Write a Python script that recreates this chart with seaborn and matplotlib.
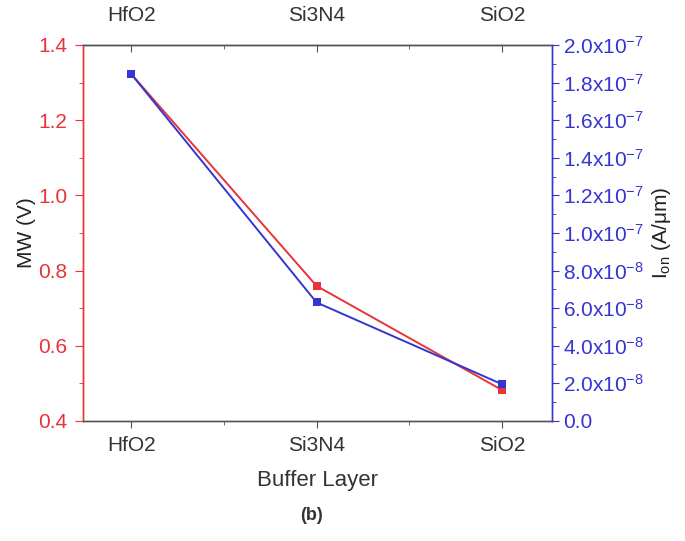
import math
import matplotlib
matplotlib.use("Agg")
import matplotlib.pyplot as plt
import seaborn as sns
import pandas as pd
from matplotlib.ticker import MultipleLocator, FixedLocator, FuncFormatter

layers = ["HfO2", "Si3N4", "SiO2"]
mw_values = [1.323, 0.759, 0.482]
ion_values = [1.846e-7, 6.3e-8, 1.95e-8]
left_ticks = [0.4, 0.6, 0.8, 1.0, 1.2, 1.4]
right_ticks = [0.0, 2e-8, 4e-8, 6e-8, 8e-8, 1e-7, 1.2e-7, 1.4e-7, 1.6e-7, 1.8e-7, 2e-7]

sns.set_style("white")
plt.rcParams['font.family'] = ['Liberation Sans', 'DejaVu Sans']
plt.rcParams['mathtext.fontset'] = 'custom'
plt.rcParams['mathtext.rm'] = 'Liberation Sans'
plt.rcParams['mathtext.it'] = 'Liberation Sans'
plt.rcParams['mathtext.default'] = 'rm'

RED = "#e8333a"
BLUE = "#3535d0"
FS = 15

df = pd.DataFrame({"pos": range(len(layers)), "layer": layers,
                   "MW": mw_values, "Ion": ion_values})

fig = plt.figure(figsize=(6.85, 5.41), dpi=100)
ax = fig.add_axes([0.121, 0.222, 0.685, 0.695])
ax2 = ax.twinx()

sns.lineplot(data=df, x="pos", y="MW", ax=ax, color=RED, marker="s",
             markersize=5.5, markeredgewidth=0, linewidth=1.4)
sns.lineplot(data=df, x="pos", y="Ion", ax=ax2, color=BLUE, marker="s",
             markersize=5.5, markeredgewidth=0, linewidth=1.4)

ax.set_xlim(-0.26, 2.27)
ax.set_ylim(0.4, 1.4)
ax2.set_ylim(0, 2e-7)

ax.set_xticks(range(len(layers)))
ax.set_xticklabels(layers)
ax.xaxis.set_minor_locator(FixedLocator([0.5, 1.5]))
ax.set_yticks(left_ticks)
ax.yaxis.set_minor_locator(MultipleLocator(0.1))
ax2.set_yticks(right_ticks)
ax2.yaxis.set_minor_locator(MultipleLocator(1e-8))

def fmt(v, pos):
    if abs(v) < 1e-15:
        return "0.0"
    e = int(math.floor(math.log10(abs(v)) + 1e-9))
    m = v / 10 ** e
    return r"%.1fx10$^{%d}$" % (m, e)

ax2.yaxis.set_major_formatter(FuncFormatter(fmt))

ax.set_xlabel("Buffer Layer", fontsize=16, color="#333333", labelpad=11)
ax.set_ylabel("MW (V)", fontsize=FS, color="#222222", labelpad=2)
ax2.set_ylabel(r"I$_{on}$ (A/$\mu$m)", fontsize=FS, color="#222222", labelpad=4)

for a in (ax, ax2):
    for s in a.spines.values():
        s.set_linewidth(1.0)
        s.set_color("#555555")
ax2.spines["left"].set_color(RED)
ax2.spines["right"].set_color(BLUE)
ax.spines["left"].set_color(RED)
ax.spines["right"].set_color(BLUE)

ax.tick_params(axis="y", which="both", direction="out", colors=RED, labelsize=FS)
ax.tick_params(axis="y", which="major", length=6, pad=5)
ax.tick_params(axis="y", which="minor", length=3, left=True)
ax2.tick_params(axis="y", which="both", direction="out", colors=BLUE, labelsize=FS)
ax2.tick_params(axis="y", which="major", length=5, pad=3)
ax2.tick_params(axis="y", which="minor", length=3, right=True)
ax.tick_params(axis="x", which="both", direction="out", colors="#555555",
               labelcolor="#333333", labelsize=FS, bottom=True)
ax.tick_params(axis="x", which="major", length=5, pad=6)
ax.tick_params(axis="x", which="minor", length=3)

top = ax.secondary_xaxis("top")
top.set_xticks(range(len(layers)))
top.set_xticklabels(layers)
top.xaxis.set_minor_locator(FixedLocator([0.5, 1.5]))
top.tick_params(axis="x", which="both", direction="in", colors="#555555",
                labelcolor="#333333", labelsize=FS)
top.tick_params(axis="x", which="major", length=5, pad=14)
top.tick_params(axis="x", which="minor", length=3)
top.spines["top"].set_color("#555555")

ax.grid(False)
ax2.grid(False)

fig.text(0.455, 0.048, "(b)", ha="center", va="center", fontsize=13,
         fontweight="bold", color="#333333")

fig.savefig("out.png", dpi=100)
